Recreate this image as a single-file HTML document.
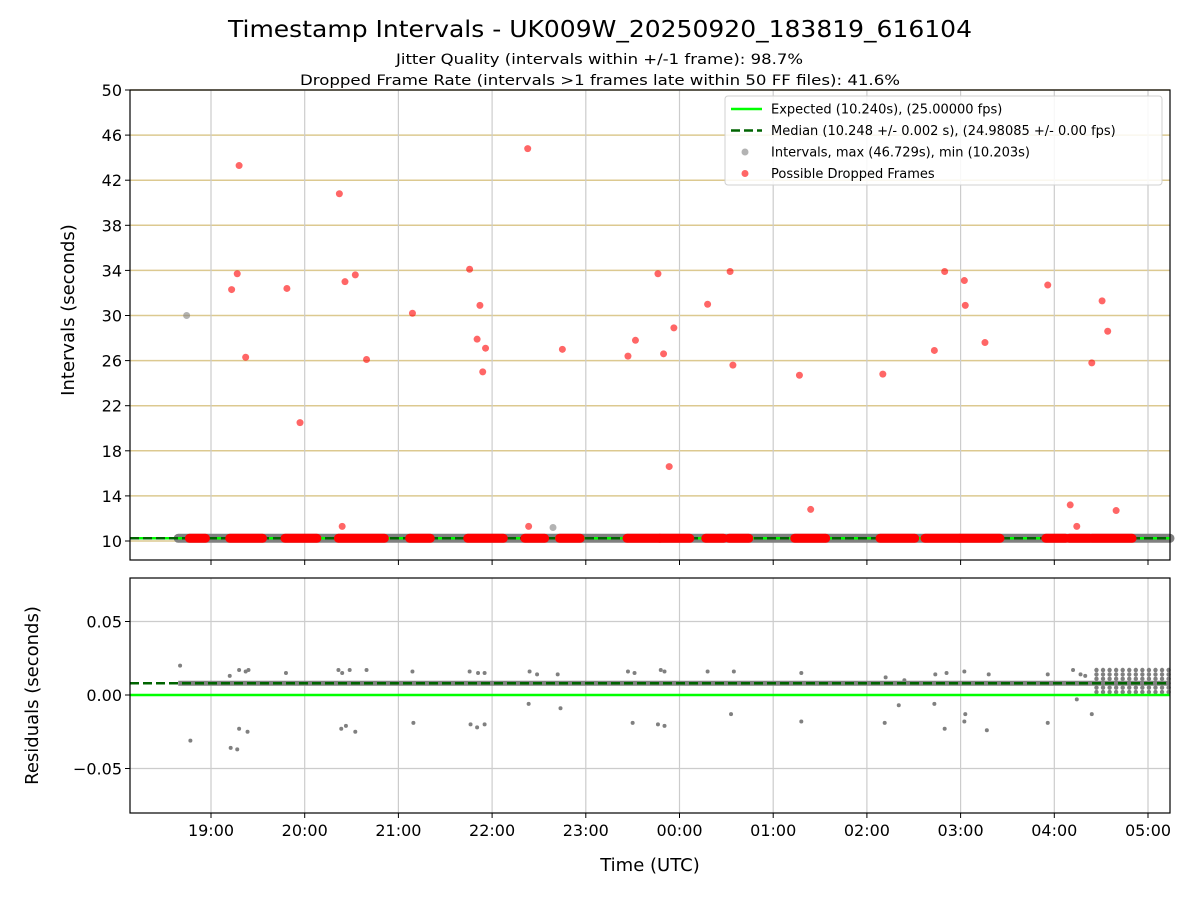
<!DOCTYPE html>
<html><head><meta charset="utf-8"><style>
body{margin:0;background:#fff;}
text{font-family:"DejaVu Sans","Liberation Sans",sans-serif;fill:#000;}
</style></head><body>
<svg id="chart" width="1200" height="900" viewBox="0 0 1200 900" xmlns="http://www.w3.org/2000/svg">
<rect width="1200" height="900" fill="#fff"/>
<text x="228" y="37" font-size="23" textLength="744" lengthAdjust="spacingAndGlyphs">Timestamp Intervals - UK009W_20250920_183819_616104</text>
<text x="396" y="64" font-size="14" textLength="407" lengthAdjust="spacingAndGlyphs">Jitter Quality (intervals within +/-1 frame): 98.7%</text>
<text x="300" y="85" font-size="14" textLength="600" lengthAdjust="spacingAndGlyphs">Dropped Frame Rate (intervals &gt;1 frames late within 50 FF files): 41.6%</text>
<g id="topAx"></g><g id="botAx"></g>
</svg>
<script>
const xTickHours=[19,20,21,22,23,24,25,26,27,28,29];
const xTickLabels=["19:00","20:00","21:00","22:00","23:00","00:00","01:00","02:00","03:00","04:00","05:00"];
const yTopTicks=[10,14,18,22,26,30,34,38,42,46,50];
const yBotTicks=[0.05,0,-0.05];
const yBotLabels=["0.05","0.00","\u22120.05"];
const expected=10.240, median=10.248, medianResid=0.008;
const bandStart=18.65;
const droppedHours=[19.30,19.22,19.28,19.37,19.81,19.95,20.37,20.43,20.54,20.66,20.40,21.15,21.76,21.84,21.87,21.90,21.93,22.38,22.39,22.44,22.75,23.45,23.53,23.77,23.83,23.89,23.94,24.30,24.54,24.57,25.28,25.40,26.17,26.72,26.83,27.04,27.05,27.26,27.93,28.17,28.24,28.40,28.51,28.57,28.66];
const droppedValues=[43.3,32.3,33.7,26.3,32.4,20.5,40.8,33.0,33.6,26.1,11.3,30.2,34.1,27.9,30.9,25.0,27.1,44.8,11.3,10.3,27.0,26.4,27.8,33.7,26.6,16.6,28.9,31.0,33.9,25.6,24.7,12.8,24.8,26.9,33.9,33.1,30.9,27.6,32.7,13.2,11.3,25.8,31.3,28.6,12.7];
const grayHours=[18.74,22.65];
const grayValues=[30.0,11.2];
const dropStart=[18.77,19.20,19.79,20.36,21.12,21.74,22.35,22.72,23.44,23.79,24.28,24.53,25.23,26.14,26.62,26.99,27.91,28.16,28.40];
const dropEnd=[18.94,19.55,20.13,20.85,21.34,22.12,22.56,22.94,23.79,24.11,24.47,24.74,25.56,26.51,26.99,27.42,28.12,28.38,28.83];
const residHours=[18.67,18.78,19.21,19.28,19.30,19.39,20.39,20.44,20.54,21.16,21.77,21.84,21.92,22.39,22.73,23.50,23.77,23.84,24.55,25.30,26.19,26.34,26.72,26.83,27.04,27.05,27.28,27.93,28.24,28.40,
 19.20,19.30,19.37,19.40,19.80,20.36,20.40,20.48,20.66,21.15,21.76,21.85,21.92,22.40,22.48,22.70,23.45,23.52,23.80,23.84,24.30,24.58,25.30,26.20,26.40,26.73,26.85,27.04,27.30,27.93,28.20,28.28,28.33];
const residValues=[0.020,-0.031,-0.036,-0.037,-0.023,-0.025,-0.023,-0.021,-0.025,-0.019,-0.020,-0.022,-0.020,-0.006,-0.009,-0.019,-0.020,-0.021,-0.013,-0.018,-0.019,-0.007,-0.006,-0.023,-0.018,-0.013,-0.024,-0.019,-0.003,-0.013,
 0.013,0.017,0.016,0.017,0.015,0.017,0.015,0.017,0.017,0.016,0.016,0.015,0.015,0.016,0.014,0.014,0.016,0.015,0.017,0.016,0.016,0.016,0.015,0.012,0.010,0.014,0.015,0.016,0.014,0.014,0.017,0.014,0.013];
const denseHours=[28.45,28.52,28.59,28.66,28.73,28.80,28.87,28.94,29.01,29.08,29.15,29.22];
const denseValues=[0.002,0.005,0.008,0.011,0.014,0.017];

const L=130,R=1170;
const xS=h=>211+(h-19)*93.7;
const yT=v=>541-(v-10)*11.275;
const yB=v=>695-v*1470;
const NS="http://www.w3.org/2000/svg";
function mk(p,tag,attrs){const e=document.createElementNS(NS,tag);for(const k in attrs)e.setAttribute(k,attrs[k]);p.appendChild(e);return e;}
const topG=document.getElementById('topAx'), botG=document.getElementById('botAx');
const TT=90,TB=560,BT=578,BB=813;
yTopTicks.forEach(v=>{const l=mk(topG,'line',{x1:L,x2:R,y1:yT(v),y2:yT(v),stroke:'#dcc990','stroke-width':1.5});


const t=mk(topG,'text',{x:L-8,y:yT(v)+6,'text-anchor':'end','font-size':16});t.textContent=v;


mk(topG,'line',{x1:L-5,x2:L,y1:yT(v),y2:yT(v),stroke:'#000'});});
xTickHours.forEach(h=>{const l=mk(topG,'line',{x1:xS(h),x2:xS(h),y1:TT,y2:TB,stroke:'#cccccc','stroke-width':1.2});


mk(topG,'line',{x1:xS(h),x2:xS(h),y1:TB,y2:TB+5,stroke:'#000'});});
let b=mk(topG,'line',{x1:xS(bandStart),x2:R,y1:yT(expected),y2:yT(expected),stroke:'#808080','stroke-width':9,'stroke-linecap':'round'});


let e1=mk(topG,'line',{x1:L,x2:R,y1:yT(expected),y2:yT(expected),stroke:'#00ff00','stroke-width':2.5});


let m1=mk(topG,'line',{x1:L,x2:R,y1:yT(median),y2:yT(median),stroke:'#006400','stroke-width':2.5,'stroke-dasharray':'9,4'});


dropStart.forEach((s,i)=>{const r=mk(topG,'line',{x1:xS(s),x2:xS(dropEnd[i]),y1:yT(expected),y2:yT(expected),stroke:'#ff0000','stroke-width':9,'stroke-linecap':'round'});

});
grayHours.forEach((h,i)=>{const c=mk(topG,'circle',{cx:xS(h),cy:yT(grayValues[i]),r:3.5,fill:'#808080','fill-opacity':0.6});

});
droppedHours.forEach((h,i)=>{const c=mk(topG,'circle',{cx:xS(h),cy:yT(droppedValues[i]),r:3.5,fill:'#ff0000','fill-opacity':0.6});

});
let f1=mk(topG,'rect',{x:L,y:TT,width:R-L,height:TB-TT,fill:'none',stroke:'#000','stroke-width':1.2});


let yl=mk(topG,'text',{x:0,y:0,'text-anchor':'middle','font-size':18,transform:`translate(74,${(TT+TB)/2-15}) rotate(-90)`});yl.textContent='Intervals (seconds)';


const lg=mk(topG,'g',{});


mk(lg,'rect',{x:725,y:96,width:437,height:89,rx:3,fill:'#fff','fill-opacity':0.85,stroke:'#d0d0d0'});
const items=[['Expected (10.240s), (25.00000 fps)','line'],['Median (10.248 +/- 0.002 s), (24.98085 +/- 0.00 fps)','dash'],['Intervals, max (46.729s), min (10.203s)','gray'],['Possible Dropped Frames','red']];
items.forEach((it,i)=>{const y=109+i*21.5;const g=mk(lg,'g',{});


if(it[1]=='line')mk(g,'line',{x1:731,x2:762,y1:y,y2:y,stroke:'#00ff00','stroke-width':2.5});
if(it[1]=='dash')mk(g,'line',{x1:731,x2:762,y1:y,y2:y,stroke:'#006400','stroke-width':2.5,'stroke-dasharray':'9,4'});
if(it[1]=='gray')mk(g,'circle',{cx:745,cy:y,r:3.5,fill:'#808080','fill-opacity':0.6});
if(it[1]=='red')mk(g,'circle',{cx:745,cy:y,r:3.5,fill:'#ff0000','fill-opacity':0.6});
const t=mk(g,'text',{x:771,y:y+4.5,'font-size':13});t.textContent=it[0];});
yBotTicks.forEach((v,i)=>{const l=mk(botG,'line',{x1:L,x2:R,y1:yB(v),y2:yB(v),stroke:'#cccccc','stroke-width':1.2});


mk(botG,'line',{x1:L-5,x2:L,y1:yB(v),y2:yB(v),stroke:'#000'});
const t=mk(botG,'text',{x:L-8,y:yB(v)+6,'text-anchor':'end','font-size':16});t.textContent=yBotLabels[i];

});
xTickHours.forEach((h,i)=>{const l=mk(botG,'line',{x1:xS(h),x2:xS(h),y1:BT,y2:BB,stroke:'#cccccc','stroke-width':1.2});


mk(botG,'line',{x1:xS(h),x2:xS(h),y1:BB,y2:BB+5,stroke:'#000'});
const t=mk(botG,'text',{x:xS(h),y:BB+23,'text-anchor':'middle','font-size':16});t.textContent=xTickLabels[i];

});
let rb=mk(botG,'line',{x1:xS(bandStart),x2:R,y1:yB(medianResid),y2:yB(medianResid),stroke:'#808080','stroke-width':5});


denseHours.forEach(h=>denseValues.forEach(v=>{const c=mk(botG,'circle',{cx:xS(h),cy:yB(v),r:2.2,fill:'#808080'});

}));
residHours.forEach((h,i)=>{const c=mk(botG,'circle',{cx:xS(h),cy:yB(residValues[i]),r:2,fill:'#808080'});

});
let e2=mk(botG,'line',{x1:L,x2:R,y1:yB(0),y2:yB(0),stroke:'#00ff00','stroke-width':2.5});


let m2=mk(botG,'line',{x1:L,x2:R,y1:yB(medianResid),y2:yB(medianResid),stroke:'#006400','stroke-width':2.5,'stroke-dasharray':'9,4'});


let f2=mk(botG,'rect',{x:L,y:BT,width:R-L,height:BB-BT,fill:'none',stroke:'#000','stroke-width':1.2});


let yl2=mk(botG,'text',{x:0,y:0,'text-anchor':'middle','font-size':18,transform:`translate(38,${(BT+BB)/2}) rotate(-90)`});yl2.textContent='Residuals (seconds)';


let xl=mk(botG,'text',{x:650,y:871,'text-anchor':'middle','font-size':18});xl.textContent='Time (UTC)';


</script>
</body></html>
